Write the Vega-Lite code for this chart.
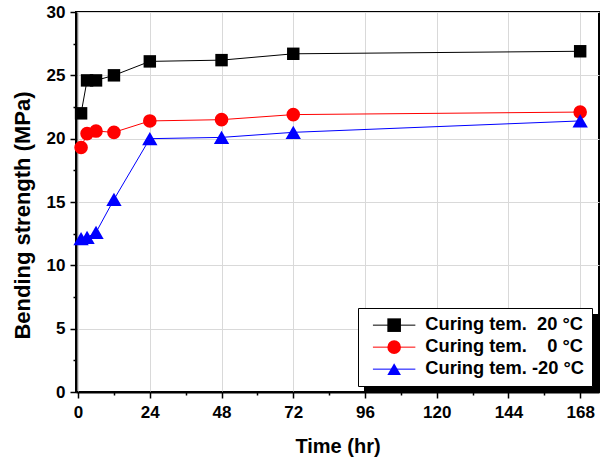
{
  "$schema": "https://vega.github.io/schema/vega-lite/v6.json",
  "width": 523,
  "height": 380,
  "padding": {"left": 76, "top": 12, "right": 5, "bottom": 68},
  "autosize": {"type": "none"},
  "background": "white",
  "config": {
    "font": "Liberation Sans",
    "view": {"stroke": "black", "strokeWidth": 2},
    "axis": {
      "labelFont": "Liberation Sans",
      "labelFontSize": 17,
      "labelFontWeight": "bold",
      "labelColor": "black",
      "titleFont": "Liberation Sans",
      "titleFontWeight": "bold",
      "titleColor": "black",
      "domainColor": "black",
      "domainWidth": 2,
      "tickColor": "black",
      "tickWidth": 1.5,
      "gridColor": "#d9d9d9",
      "gridWidth": 1
    },
    "legend": {
      "labelFont": "Liberation Sans",
      "labelFontSize": 18.3,
      "labelFontWeight": "bold",
      "labelColor": "black",
      "labelLimit": 300,
      "padding": 8,
      "rowPadding": 3,
      "symbolSize": 200,
      "symbolOffset": 19,
      "labelOffset": 22
    }
  },
  "data": {
    "values": [
      {"t": 1, "v": 22.0, "s": "Curing tem.\u00a0\u00a020 °C"},
      {"t": 3, "v": 24.6, "s": "Curing tem.\u00a0\u00a020 °C"},
      {"t": 6, "v": 24.6, "s": "Curing tem.\u00a0\u00a020 °C"},
      {"t": 12, "v": 25.0, "s": "Curing tem.\u00a0\u00a020 °C"},
      {"t": 24, "v": 26.1, "s": "Curing tem.\u00a0\u00a020 °C"},
      {"t": 48, "v": 26.2, "s": "Curing tem.\u00a0\u00a020 °C"},
      {"t": 72, "v": 26.7, "s": "Curing tem.\u00a0\u00a020 °C"},
      {"t": 168, "v": 26.9, "s": "Curing tem.\u00a0\u00a020 °C"},
      {"t": 1, "v": 19.3, "s": "Curing tem.\u00a0\u00a0\u00a0\u00a00 °C"},
      {"t": 3, "v": 20.4, "s": "Curing tem.\u00a0\u00a0\u00a0\u00a00 °C"},
      {"t": 6, "v": 20.6, "s": "Curing tem.\u00a0\u00a0\u00a0\u00a00 °C"},
      {"t": 12, "v": 20.5, "s": "Curing tem.\u00a0\u00a0\u00a0\u00a00 °C"},
      {"t": 24, "v": 21.4, "s": "Curing tem.\u00a0\u00a0\u00a0\u00a00 °C"},
      {"t": 48, "v": 21.5, "s": "Curing tem.\u00a0\u00a0\u00a0\u00a00 °C"},
      {"t": 72, "v": 21.9, "s": "Curing tem.\u00a0\u00a0\u00a0\u00a00 °C"},
      {"t": 168, "v": 22.1, "s": "Curing tem.\u00a0\u00a0\u00a0\u00a00 °C"},
      {"t": 1, "v": 12.1, "s": "Curing tem. -20 °C"},
      {"t": 3, "v": 12.2, "s": "Curing tem. -20 °C"},
      {"t": 6, "v": 12.6, "s": "Curing tem. -20 °C"},
      {"t": 12, "v": 15.2, "s": "Curing tem. -20 °C"},
      {"t": 24, "v": 20.0, "s": "Curing tem. -20 °C"},
      {"t": 48, "v": 20.1, "s": "Curing tem. -20 °C"},
      {"t": 72, "v": 20.5, "s": "Curing tem. -20 °C"},
      {"t": 168, "v": 21.4, "s": "Curing tem. -20 °C"}
    ]
  },
  "encoding": {
    "x": {
      "field": "t", "type": "quantitative",
      "scale": {"domain": [-0.7, 174.3], "nice": false, "zero": false},
      "axis": {
        "title": "Time (hr)",
        "titleFontSize": 20,
        "values": [0, 12, 24, 36, 48, 60, 72, 84, 96, 108, 120, 132, 144, 156, 168],
        "labelExpr": "datum.value % 24 == 0 ? datum.label : ''",
        "tickSize": {"condition": {"test": "datum.value % 24 == 0", "value": 6}, "value": 3},
        "gridOpacity": {"condition": {"test": "datum.value % 24 == 0", "value": 1}, "value": 0},
        "labelPadding": 6,
        "titlePadding": 16
      }
    },
    "y": {
      "field": "v", "type": "quantitative",
      "scale": {"domain": [0, 30], "nice": false},
      "axis": {
        "title": "Bending strength (MPa)",
        "titleFontSize": 22,
        "titleY": 203,
        "values": [0, 2.5, 5, 7.5, 10, 12.5, 15, 17.5, 20, 22.5, 25, 27.5, 30],
        "labelExpr": "datum.value % 5 == 0 ? datum.label : ''",
        "tickSize": {"condition": {"test": "datum.value % 5 == 0", "value": 6}, "value": 3},
        "gridOpacity": {"condition": {"test": "datum.value % 5 == 0", "value": 1}, "value": 0},
        "labelPadding": 5,
        "titlePadding": 12
      }
    },
    "fill": {
      "field": "s", "type": "nominal",
      "scale": {
        "domain": ["Curing tem.\u00a0\u00a020 °C", "Curing tem.\u00a0\u00a0\u00a0\u00a00 °C", "Curing tem. -20 °C"],
        "range": ["black", "red", "blue"]
      },
      "legend": {
        "orient": "none", "legendX": 282, "legendY": 296,
        "title": null,
        "labelExpr": "''",
        "symbolSize": 185,
        "symbolStrokeWidth": 0
      }
    },
    "shape": {
      "field": "s", "type": "nominal",
      "scale": {
        "domain": ["Curing tem.\u00a0\u00a020 °C", "Curing tem.\u00a0\u00a0\u00a0\u00a00 °C", "Curing tem. -20 °C"],
        "range": ["square", "circle", "triangle-up"]
      },
      "legend": {
        "orient": "none", "legendX": 282, "legendY": 296,
        "title": null,
        "labelExpr": "''",
        "symbolSize": 185,
        "symbolStrokeWidth": 0
      }
    }
  },
  "layer": [
    {
      "mark": {"type": "line", "strokeWidth": 1, "opacity": 0},
      "encoding": {
        "fill": null,
        "shape": null,
        "strokeDash": {
          "field": "s", "type": "nominal",
          "scale": {
            "domain": ["Curing tem. -20 °C", "Curing tem.\u00a0\u00a0\u00a0\u00a00 °C", "Curing tem.\u00a0\u00a020 °C"],
            "range": [[1, 0], [1, 0], [1, 0]]
          },
          "legend": {
            "orient": "none", "legendX": 288, "legendY": 302,
            "title": null,
            "fillColor": "black", "strokeColor": "black",
            "symbolType": "M-3,0H3",
            "symbolOpacity": 0,
            "labelExpr": "''",
            "labelOffset": 181
          }
        }
      }
    },
    {
      "mark": {"type": "line", "strokeWidth": 1},
      "encoding": {
        "fill": null,
        "shape": null,
        "stroke": {
          "field": "s", "type": "nominal",
          "sort": ["Curing tem.\u00a0\u00a020 °C", "Curing tem.\u00a0\u00a0\u00a0\u00a00 °C", "Curing tem. -20 °C"],
          "scale": {"range": ["black", "red", "blue"]},
          "legend": {
            "orient": "none", "legendX": 282, "legendY": 296,
            "title": null,
            "fillColor": "white", "strokeColor": "black",
            "symbolType": "M-3,0H3",
            "symbolStrokeWidth": 1
          }
        }
      }
    },
    {
      "transform": [{"filter": {"field": "s", "equal": "Curing tem.\u00a0\u00a020 °C"}}],
      "mark": {"type": "point", "filled": true, "opacity": 1, "strokeWidth": 0, "size": 155}
    },
    {
      "transform": [{"filter": {"field": "s", "equal": "Curing tem.\u00a0\u00a0\u00a0\u00a00 °C"}}],
      "mark": {"type": "point", "filled": true, "opacity": 1, "strokeWidth": 0, "size": 185}
    },
    {
      "transform": [{"filter": {"field": "s", "equal": "Curing tem. -20 °C"}}],
      "mark": {"type": "point", "filled": true, "opacity": 1, "strokeWidth": 0, "size": 235}
    }
  ]
}
